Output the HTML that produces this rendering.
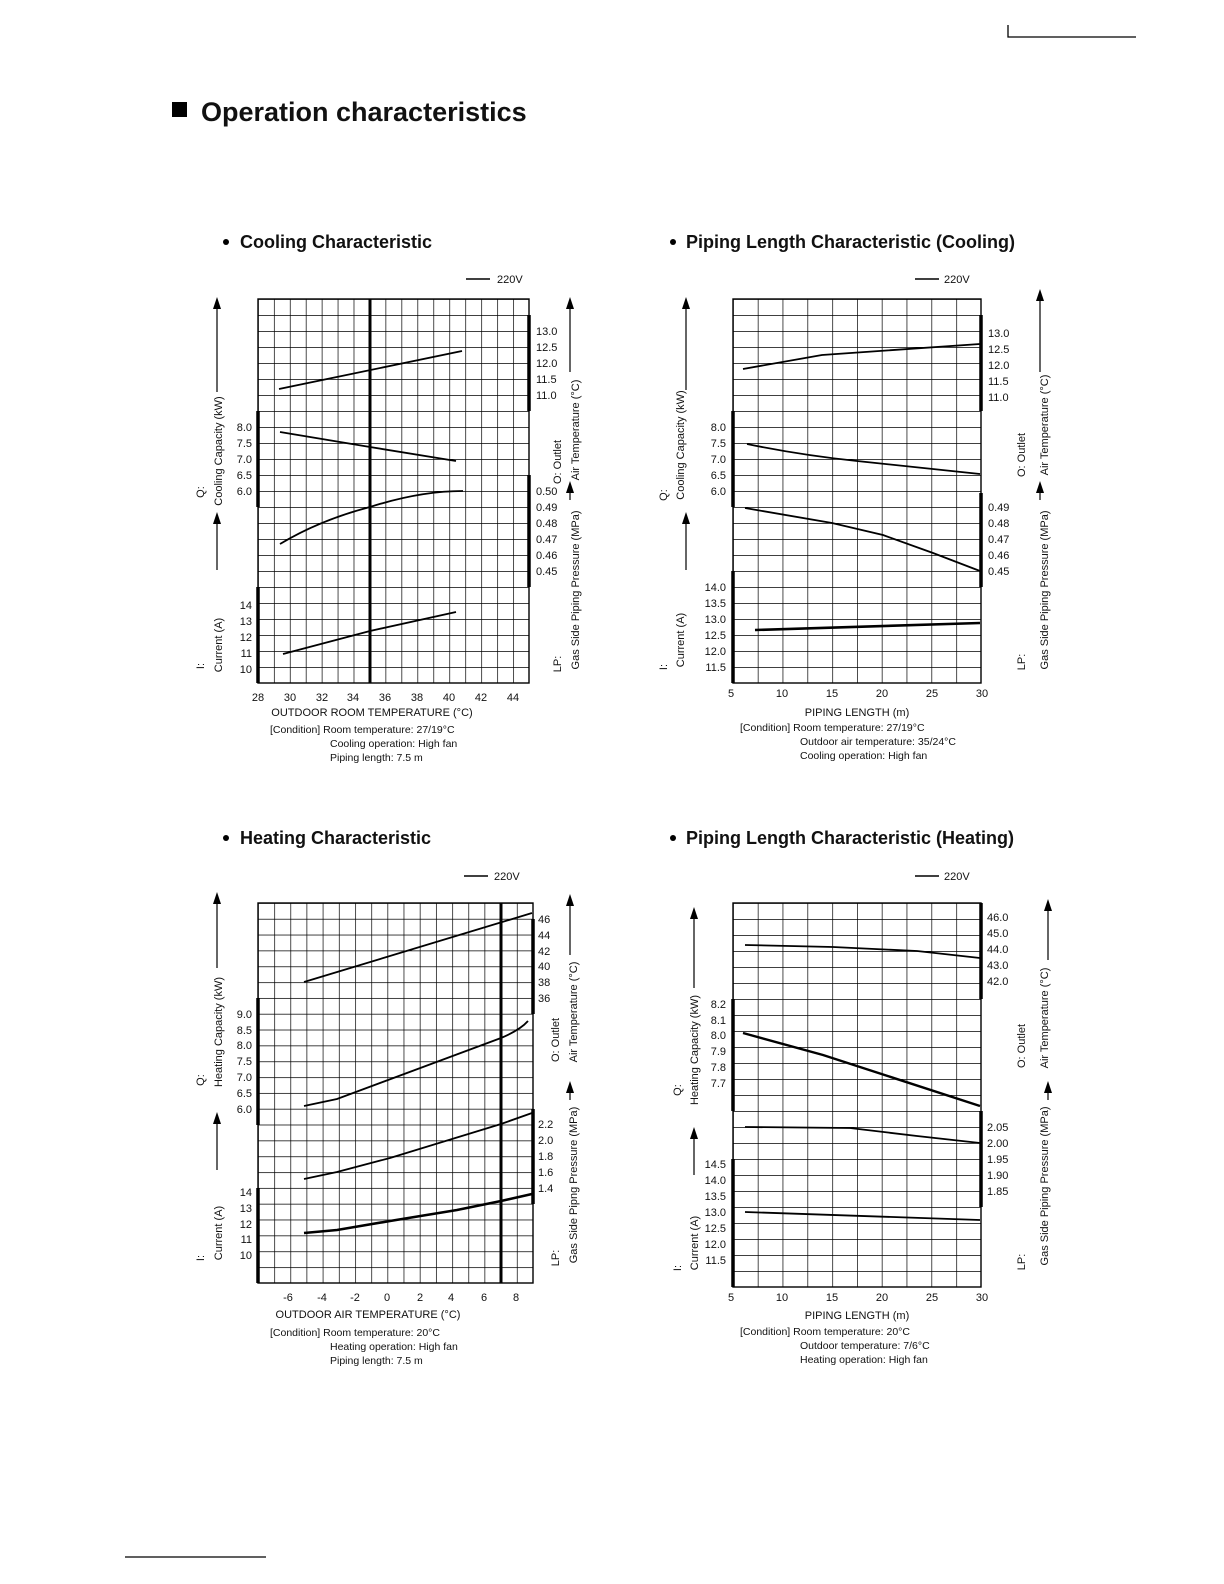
<!DOCTYPE html>
<html><head><meta charset="utf-8"><style>
html,body{margin:0;padding:0;background:#fff;overflow:hidden;width:1224px;height:1584px}
svg{display:block}
svg text{font-family:"Liberation Sans",sans-serif;fill:#111}
.t{font-size:11px}
.r{text-anchor:end}
.m{text-anchor:middle}
.c{font-size:10.5px}
</style></head><body>
<svg width="1224" height="1584" viewBox="0 0 1224 1584" xmlns="http://www.w3.org/2000/svg">
<defs>
<pattern id="g1" patternUnits="userSpaceOnUse" x="258" y="299" width="15.94" height="16"><path d="M0 0H15.94M0 0V16" stroke="#000" stroke-width="1.4" fill="none"/></pattern>
<pattern id="g2" patternUnits="userSpaceOnUse" x="733" y="299" width="24.8" height="16"><path d="M0 0H24.8M0 0V16" stroke="#000" stroke-width="1.4" fill="none"/></pattern>
<pattern id="g3" patternUnits="userSpaceOnUse" x="258" y="903" width="16.18" height="15.83"><path d="M0 0H16.18M0 0V15.83" stroke="#000" stroke-width="1.4" fill="none"/></pattern>
<pattern id="g4" patternUnits="userSpaceOnUse" x="733" y="903" width="24.8" height="16"><path d="M0 0H24.8M0 0V16" stroke="#000" stroke-width="1.4" fill="none"/></pattern>
</defs>
<path d="M1008 25V37H1136" stroke="#000" stroke-width="1.3" fill="none"/>
<path d="M125 1557H266" stroke="#000" stroke-width="1.3"/>
<rect x="172" y="102" width="15" height="15" fill="#000"/>
<text x="201" y="121" style="font-size:27px;font-weight:bold">Operation characteristics</text>

<!-- COOLING -->
<circle cx="226" cy="242" r="3" fill="#000"/>
<text x="240" y="248" style="font-size:18px;font-weight:bold">Cooling Characteristic</text>
<path d="M466 279H490" stroke="#000" stroke-width="1.5"/><text x="497" y="283" class="t">220V</text>
<rect x="258" y="299" width="271" height="384" fill="url(#g1)" stroke="#000" stroke-width="1.4"/>
<path d="M370 299V683" stroke="#000" stroke-width="3"/>
<path d="M258 411V507M258 587V683M529 315V411M529 475V587" stroke="#000" stroke-width="3.5"/>
<g class="t r"><text x="252" y="431">8.0</text><text x="252" y="447">7.5</text><text x="252" y="463">7.0</text><text x="252" y="479">6.5</text><text x="252" y="495">6.0</text>
<text x="252" y="609">14</text><text x="252" y="625">13</text><text x="252" y="641">12</text><text x="252" y="657">11</text><text x="252" y="673">10</text></g>
<g class="t"><text x="536" y="335">13.0</text><text x="536" y="351">12.5</text><text x="536" y="367">12.0</text><text x="536" y="383">11.5</text><text x="536" y="399">11.0</text>
<text x="536" y="495">0.50</text><text x="536" y="511">0.49</text><text x="536" y="527">0.48</text><text x="536" y="543">0.47</text><text x="536" y="559">0.46</text><text x="536" y="575">0.45</text></g>
<g class="t m"><text x="258" y="701">28</text><text x="290" y="701">30</text><text x="322" y="701">32</text><text x="353" y="701">34</text><text x="385" y="701">36</text><text x="417" y="701">38</text><text x="449" y="701">40</text><text x="481" y="701">42</text><text x="513" y="701">44</text>
<text x="372" y="716">OUTDOOR ROOM TEMPERATURE (°C)</text></g>
<g class="c"><text x="270" y="733">[Condition]  Room temperature: 27/19°C</text><text x="330" y="747">Cooling operation: High fan</text><text x="330" y="761">Piping length: 7.5 m</text></g>
<g fill="none" stroke="#000" stroke-width="1.8">
<path d="M279 389L462 351"/><path d="M280 432L370 447L456 461"/><path d="M280 544Q320 520 370 507Q420 491 463 491"/><path d="M283 654L370 631L456 612"/></g>
<g stroke="#000" stroke-width="1.2"><path d="M217 392V305M217 570V520M570 372V305M570 500V492"/></g>
<g fill="#000"><path d="M213 309L217 297L221 309Z"/><path d="M213 524L217 512L221 524Z"/><path d="M566 309L570 297L574 309Z"/><path d="M566 493L570 481L574 493Z"/></g>
<g class="t m"><text transform="translate(222 451) rotate(-90)">Cooling Capacity (kW)</text><text transform="translate(204 492) rotate(-90)">Q:</text>
<text transform="translate(222 645) rotate(-90)">Current (A)</text><text transform="translate(204 666) rotate(-90)">I:</text>
<text transform="translate(561 462) rotate(-90)">O: Outlet</text><text transform="translate(579 430) rotate(-90)">Air Temperature (°C)</text>
<text transform="translate(561 664) rotate(-90)">LP:</text><text transform="translate(579 590) rotate(-90)">Gas Side Piping Pressure (MPa)</text></g>

<!-- PIPING COOLING -->
<circle cx="673" cy="242" r="3" fill="#000"/>
<text x="686" y="248" style="font-size:18px;font-weight:bold">Piping Length Characteristic (Cooling)</text>
<path d="M915 279H939" stroke="#000" stroke-width="1.5"/><text x="944" y="283" class="t">220V</text>
<rect x="733" y="299" width="248" height="384" fill="url(#g2)" stroke="#000" stroke-width="1.4"/>
<path d="M733 411V507M733 571V683M981 315V411M981 493V587" stroke="#000" stroke-width="3.5"/>
<g class="t r"><text x="726" y="431">8.0</text><text x="726" y="447">7.5</text><text x="726" y="463">7.0</text><text x="726" y="479">6.5</text><text x="726" y="495">6.0</text>
<text x="726" y="591">14.0</text><text x="726" y="607">13.5</text><text x="726" y="623">13.0</text><text x="726" y="639">12.5</text><text x="726" y="655">12.0</text><text x="726" y="671">11.5</text></g>
<g class="t"><text x="988" y="337">13.0</text><text x="988" y="353">12.5</text><text x="988" y="369">12.0</text><text x="988" y="385">11.5</text><text x="988" y="401">11.0</text>
<text x="988" y="511">0.49</text><text x="988" y="527">0.48</text><text x="988" y="543">0.47</text><text x="988" y="559">0.46</text><text x="988" y="575">0.45</text></g>
<g class="t m"><text x="731" y="697">5</text><text x="782" y="697">10</text><text x="832" y="697">15</text><text x="882" y="697">20</text><text x="932" y="697">25</text><text x="982" y="697">30</text>
<text x="857" y="716">PIPING LENGTH (m)</text></g>
<g class="c"><text x="740" y="731">[Condition]  Room temperature: 27/19°C</text><text x="800" y="745">Outdoor air temperature: 35/24°C</text><text x="800" y="759">Cooling operation: High fan</text></g>
<g fill="none" stroke="#000" stroke-width="1.8">
<path d="M743 369L822 355L980 344"/><path d="M747 444Q800 455 857 461L980 474"/><path d="M745 508L832 523L883 535L933 553L980 571"/><path d="M755 630L980 623" stroke-width="2.6"/></g>
<g stroke="#000" stroke-width="1.2"><path d="M686 390V305M686 570V520M1040 372V297M1040 500V492"/></g>
<g fill="#000"><path d="M682 309L686 297L690 309Z"/><path d="M682 524L686 512L690 524Z"/><path d="M1036 301L1040 289L1044 301Z"/><path d="M1036 493L1040 481L1044 493Z"/></g>
<g class="t m"><text transform="translate(684 445) rotate(-90)">Cooling Capacity (kW)</text><text transform="translate(667 495) rotate(-90)">Q:</text>
<text transform="translate(684 640) rotate(-90)">Current (A)</text><text transform="translate(667 667) rotate(-90)">I:</text>
<text transform="translate(1025 455) rotate(-90)">O: Outlet</text><text transform="translate(1048 425) rotate(-90)">Air Temperature (°C)</text>
<text transform="translate(1025 662) rotate(-90)">LP:</text><text transform="translate(1048 590) rotate(-90)">Gas Side Piping Pressure (MPa)</text></g>

<!-- HEATING -->
<circle cx="226" cy="838" r="3" fill="#000"/>
<text x="240" y="844" style="font-size:18px;font-weight:bold">Heating Characteristic</text>
<path d="M464 876H488" stroke="#000" stroke-width="1.5"/><text x="494" y="880" class="t">220V</text>
<rect x="258" y="903" width="275" height="380" fill="url(#g3)" stroke="#000" stroke-width="1.4"/>
<path d="M501 903V1283" stroke="#000" stroke-width="3"/>
<path d="M258 998V1125M258 1188V1283M533 919V1014M533 1109V1204" stroke="#000" stroke-width="3.5"/>
<g class="t r"><text x="252" y="1018">9.0</text><text x="252" y="1034">8.5</text><text x="252" y="1049">8.0</text><text x="252" y="1065">7.5</text><text x="252" y="1081">7.0</text><text x="252" y="1097">6.5</text><text x="252" y="1113">6.0</text>
<text x="252" y="1196">14</text><text x="252" y="1212">13</text><text x="252" y="1228">12</text><text x="252" y="1243">11</text><text x="252" y="1259">10</text></g>
<g class="t"><text x="538" y="923">46</text><text x="538" y="939">44</text><text x="538" y="955">42</text><text x="538" y="970">40</text><text x="538" y="986">38</text><text x="538" y="1002">36</text>
<text x="538" y="1128">2.2</text><text x="538" y="1144">2.0</text><text x="538" y="1160">1.8</text><text x="538" y="1176">1.6</text><text x="538" y="1192">1.4</text></g>
<g class="t m"><text x="288" y="1301">-6</text><text x="322" y="1301">-4</text><text x="355" y="1301">-2</text><text x="387" y="1301">0</text><text x="420" y="1301">2</text><text x="451" y="1301">4</text><text x="484" y="1301">6</text><text x="516" y="1301">8</text>
<text x="368" y="1318">OUTDOOR AIR TEMPERATURE (°C)</text></g>
<g class="c"><text x="270" y="1336">[Condition]  Room temperature: 20°C</text><text x="330" y="1350">Heating operation: High fan</text><text x="330" y="1364">Piping length: 7.5 m</text></g>
<g fill="none" stroke="#000" stroke-width="1.8">
<path d="M304 982L532 913"/><path d="M304 1106L337 1099L501 1038Q520 1030 528 1021"/><path d="M304 1179L337 1172L390 1158L501 1124L532 1113"/><path d="M304 1233L337 1230L390 1221L457 1210L501 1201L532 1194" stroke-width="2.6"/></g>
<g stroke="#000" stroke-width="1.2"><path d="M217 968V900M217 1170V1120M570 955V902M570 1100V1092"/></g>
<g fill="#000"><path d="M213 904L217 892L221 904Z"/><path d="M213 1124L217 1112L221 1124Z"/><path d="M566 906L570 894L574 906Z"/><path d="M566 1093L570 1081L574 1093Z"/></g>
<g class="t m"><text transform="translate(222 1032) rotate(-90)">Heating Capacity (kW)</text><text transform="translate(204 1080) rotate(-90)">Q:</text>
<text transform="translate(222 1233) rotate(-90)">Current (A)</text><text transform="translate(204 1258) rotate(-90)">I:</text>
<text transform="translate(559 1040) rotate(-90)">O: Outlet</text><text transform="translate(577 1012) rotate(-90)">Air Temperature (°C)</text>
<text transform="translate(559 1258) rotate(-90)">LP:</text><text transform="translate(577 1185) rotate(-90)">Gas Side Pipng Pressure (MPa)</text></g>

<!-- PIPING HEATING -->
<circle cx="673" cy="838" r="3" fill="#000"/>
<text x="686" y="844" style="font-size:18px;font-weight:bold">Piping Length Characteristic (Heating)</text>
<path d="M915 876H939" stroke="#000" stroke-width="1.5"/><text x="944" y="880" class="t">220V</text>
<rect x="733" y="903" width="248" height="384" fill="url(#g4)" stroke="#000" stroke-width="1.4"/>
<path d="M733 999V1111M733 1159V1287M981 903V999M981 1111V1207" stroke="#000" stroke-width="3.5"/>
<g class="t r"><text x="726" y="1008">8.2</text><text x="726" y="1024">8.1</text><text x="726" y="1039">8.0</text><text x="726" y="1055">7.9</text><text x="726" y="1071">7.8</text><text x="726" y="1087">7.7</text>
<text x="726" y="1168">14.5</text><text x="726" y="1184">14.0</text><text x="726" y="1200">13.5</text><text x="726" y="1216">13.0</text><text x="726" y="1232">12.5</text><text x="726" y="1248">12.0</text><text x="726" y="1264">11.5</text></g>
<g class="t"><text x="987" y="921">46.0</text><text x="987" y="937">45.0</text><text x="987" y="953">44.0</text><text x="987" y="969">43.0</text><text x="987" y="985">42.0</text>
<text x="987" y="1131">2.05</text><text x="987" y="1147">2.00</text><text x="987" y="1163">1.95</text><text x="987" y="1179">1.90</text><text x="987" y="1195">1.85</text></g>
<g class="t m"><text x="731" y="1301">5</text><text x="782" y="1301">10</text><text x="832" y="1301">15</text><text x="882" y="1301">20</text><text x="932" y="1301">25</text><text x="982" y="1301">30</text>
<text x="857" y="1319">PIPING LENGTH (m)</text></g>
<g class="c"><text x="740" y="1335">[Condition]  Room temperature: 20°C</text><text x="800" y="1349">Outdoor temperature: 7/6°C</text><text x="800" y="1363">Heating operation: High fan</text></g>
<g fill="none" stroke="#000" stroke-width="1.8">
<path d="M745 945L833 947L917 951L980 958"/><path d="M743 1033L823 1055L980 1106" stroke-width="2.4"/><path d="M745 1127L850 1128L917 1136L980 1143"/><path d="M745 1212L980 1220"/></g>
<g stroke="#000" stroke-width="1.2"><path d="M694 988V915M694 1175V1135M1048 960V907M1048 1100V1092"/></g>
<g fill="#000"><path d="M690 919L694 907L698 919Z"/><path d="M690 1139L694 1127L698 1139Z"/><path d="M1044 911L1048 899L1052 911Z"/><path d="M1044 1093L1048 1081L1052 1093Z"/></g>
<g class="t m"><text transform="translate(698 1050) rotate(-90)">Heating Capacity (kW)</text><text transform="translate(681 1090) rotate(-90)">Q:</text>
<text transform="translate(698 1243) rotate(-90)">Current (A)</text><text transform="translate(681 1268) rotate(-90)">I:</text>
<text transform="translate(1025 1046) rotate(-90)">O: Outlet</text><text transform="translate(1048 1018) rotate(-90)">Air Temperature (°C)</text>
<text transform="translate(1025 1262) rotate(-90)">LP:</text><text transform="translate(1048 1186) rotate(-90)">Gas Side Piping Pressure (MPa)</text></g>
</svg>
</body></html>
